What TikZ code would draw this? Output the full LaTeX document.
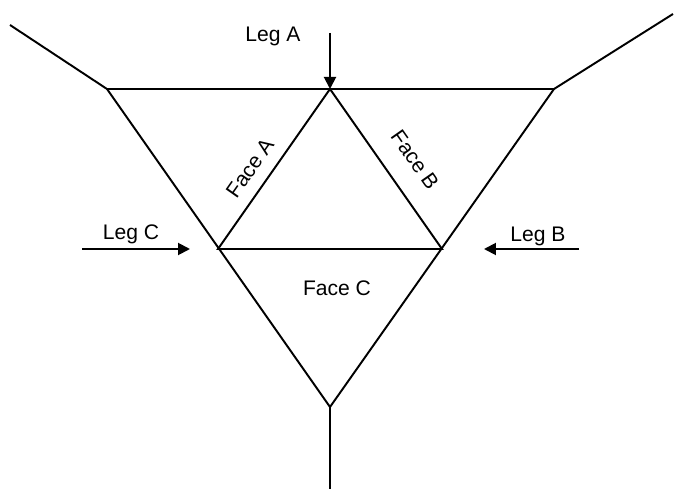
\documentclass[tikz,border=0pt]{standalone}
\usepackage{fontspec}
\setmainfont{Liberation Sans}
\usetikzlibrary{arrows.meta}

\begin{document}
\begin{tikzpicture}[
  x=0.02cm, y=-0.02cm,
  font=\fontsize{12}{14}\selectfont,
  edge/.style ={line width=1.1pt, line join=miter},
  load/.style ={-{Triangle[width=0.24cm,length=0.24cm]}, line width=1.1pt},
  leg/.style  ={anchor=base, inner sep=0pt},
  face/.style ={inner sep=0pt},
]
\useasboundingbox (0,0) rectangle (674,489);

% Outer triangle corners and the three legs running off the page.
\coordinate (tl)    at (107,89);
\coordinate (tr)    at (554,89);
\coordinate (bt)    at (330,407);
\coordinate (tlend) at (10,25);
\coordinate (trend) at (673,14);
\coordinate (btend) at (330,489);

% Inner face triangle -- corners at the midpoints of the outer sides.
\coordinate (fa) at (330,89);
\coordinate (fl) at (218,249);
\coordinate (fr) at (442,249);

\draw[edge] (tlend) -- (tl) -- (tr) -- (trend);
\draw[edge] (tl) -- (bt) -- (tr);
\draw[edge] (bt) -- (btend);
\draw[edge] (fa) -- (fl) -- (fr) -- cycle;

% Leg labels and load arrows.
\node[leg] (legA) at (273,42)  {Leg A};
\node[leg] (legC) at (131,240) {Leg C};
\node[leg] (legB) at (538,242) {Leg B};
\coordinate (legAtail) at (330,33);
\coordinate (legCtail) at (82,249);
\coordinate (legCtip)  at (190,249);
\coordinate (legBtail) at (579,249);
\coordinate (legBtip)  at (484,249);
\draw[load] (legAtail) -- (fa);
\draw[load] (legCtail) -- (legCtip);
\draw[load] (legBtail) -- (legBtip);

% Face labels.
\node[face, rotate=55]  (faceA) at (250,168) {Face A};
\node[face, rotate=-55] (faceB) at (415,160) {Face B};
\node[leg]              (faceC) at (337,296) {Face C};
\end{tikzpicture}
\end{document}
